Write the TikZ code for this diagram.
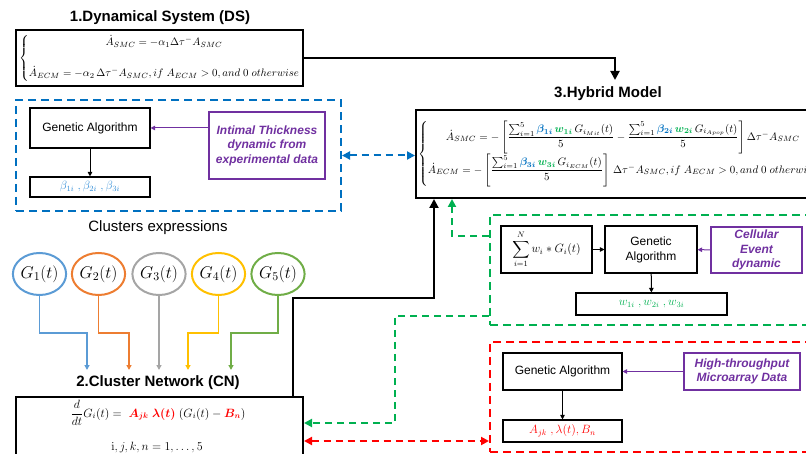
\RequirePackage{fix-cm}
\documentclass[tikz,border=0pt]{standalone}
\usepackage{amsmath,bm}
\usepackage[no-math]{fontspec}
\setmainfont{Liberation Sans}
\usepackage{xcolor}
\usetikzlibrary{arrows.meta,positioning,calc,shapes.geometric}
\definecolor{DBlue}{HTML}{0070C0}
\definecolor{LBlue}{HTML}{2E8BD6}
\definecolor{DGreen}{HTML}{00B050}
\definecolor{DRed}{HTML}{FF0000}
\definecolor{Purple}{HTML}{7030A0}
\definecolor{GOne}{HTML}{5B9BD5}
\definecolor{GTwo}{HTML}{ED7D31}
\definecolor{GThree}{HTML}{A5A5A5}
\definecolor{GFour}{HTML}{FFC000}
\definecolor{GFive}{HTML}{70AD47}
\newcommand{\bcol}[2]{\textcolor{#1}{\boldsymbol{#2}}}

\begin{document}
\begin{tikzpicture}[x=1pt,y=-1pt,
  title/.style={font=\fontsize{15}{18}\selectfont\bfseries},
  frame/.style={draw,line width=2pt,inner sep=1pt},
  eqn/.style={inner sep=0pt,font=\fontsize{10.9}{13}\selectfont},
  box/.style={draw,line width=1.1pt,inner sep=1pt,align=center,font=\fontsize{12}{15}\selectfont},
  databox/.style={draw=Purple,line width=2pt,text=Purple,inner sep=1pt,align=center,font=\fontsize{12}{14.5}\selectfont\bfseries\itshape},
  group/.style={draw,line width=2pt,dash pattern=on 8pt off 5pt},
  gene/.style={ellipse,line width=2pt,minimum width=49pt,minimum height=42pt,inner sep=0pt,font=\fontsize{17}{19}\selectfont},
  flow/.style={line width=2pt,-{Triangle[length=9pt,width=9pt]}},
  arr/.style={line width=1pt,-{Triangle[length=4.5pt,width=4.5pt]}},
  feed/.style={line width=1.5pt,-{Triangle[length=5pt,width=5pt]}},
  link/.style={line width=2pt,dash pattern=on 7pt off 5pt,{Triangle[length=8pt,width=8pt]}-{Triangle[length=8pt,width=8pt]}},
  back/.style={line width=2pt,dash pattern=on 7pt off 5pt,-{Triangle[length=8pt,width=8pt]}}]
\useasboundingbox (0,0) rectangle (806,454);
\clip (0,0) rectangle (806,454);

% dynamical system
\node[title] (dstitle) at (160,18) {1.Dynamical System (DS)};
\node[frame,minimum width=287,minimum height=56] (ds) at (159.5,58) {};
\node[eqn,anchor=west,font=\fontsize{10.8}{13}\selectfont] (dseq) at (19,58)
  {$\left\{\begin{array}{@{}c@{}}
    \dot{A}_{SMC}=-\alpha_1\Delta\tau^{-}A_{SMC}\\[17pt]
    \dot{A}_{ECM}=-\alpha_2\,\Delta\tau^{-}A_{SMC}, if\ A_{ECM}>0, and\ 0\ otherwise
  \end{array}\right.$};

% hybrid model
\node[title] (hybtitle) at (608,94) {3.Hybrid Model};
\node[frame,anchor=west,minimum width=430,minimum height=88] (hyb) at (415,154) {};
\node[eqn,anchor=west] (hybeq) at (418,154)
  {$\left\{\begin{array}{@{}c@{}}
    \dot{A}_{SMC}=-\left[\dfrac{\sum_{i=1}^{5}\bcol{DBlue}{\beta_{1i}}\,\bcol{DGreen}{w_{1i}}\,G_{i_{Mit}}(t)}{5}-\dfrac{\sum_{i=1}^{5}\bcol{DBlue}{\beta_{2i}}\,\bcol{DGreen}{w_{2i}}\,G_{i_{Apop}}(t)}{5}\right]\Delta\tau^{-}A_{SMC}\\[4pt]
    \dot{A}_{ECM}=-\left[\dfrac{\sum_{i=1}^{5}\bcol{DBlue}{\beta_{3i}}\,\bcol{DGreen}{w_{3i}}\,G_{i_{ECM}}(t)}{5}\right]\,\Delta\tau^{-}A_{SMC}, if\ A_{ECM}>0, and\ 0\ otherwise
  \end{array}\right.$};
\coordinate (hybin) at (615,80);
\draw[flow] (ds.east) -| (hybin);

% parameter fitting from intimal thickness
\node[group,draw=DBlue,minimum width=325,minimum height=111] (betagrp) at (178.5,155.5) {};
\node[box,minimum width=120,minimum height=40] (ga1) at (90,128) {Genetic Algorithm};
\node[box,minimum width=120,minimum height=20] (beta) at (90,187) {\color{LBlue}$\beta_{1i}\ ,\beta_{2i}\ ,\beta_{3i}$};
\node[databox,minimum width=116,minimum height=67] (itd) at (267,145.5) {Intimal Thickness\\dynamic from\\experimental data};
\draw[arr] (ga1) -- (beta);
\draw[arr,Purple] (itd.west |- ga1.east) -- (ga1.east);
\draw[link,DBlue] (betagrp.east) -- (betagrp.east -| hyb.west);

% cluster expressions
\node[font=\fontsize{15}{18}\selectfont] (clust) at (158,228) {Clusters expressions};
\foreach \i/\col/\xx/\tx in {1/GOne/39.5/87,2/GTwo/98.5/129,3/GThree/159/159,4/GFour/218.5/188,5/GFive/278/231} {
  \node[gene,draw=\col] (g\i) at (\xx,274) {$G_{\i}(t)$};
  \coordinate (cin\i) at (\tx,370);
  \draw[feed,color=\col] (g\i.south) -- ++(0,37) -| (cin\i);
}

% cluster network
\node[title] (cntitle) at (158,383) {2.Cluster Network (CN)};
\node[frame,minimum width=287,minimum height=73] (cn) at (159.5,433.5) {};
\node[font=\fontsize{12}{14}\selectfont] (cneq) at (158,413)
  {$\dfrac{d}{dt}G_i(t)=\ \textcolor{DRed}{\boldsymbol{A_{jk}}\ \boldsymbol{\lambda(t)}}\ (G_i(t)-\textcolor{DRed}{\boldsymbol{B_n}})$};
\node[font=\fontsize{12}{14}\selectfont] (cnidx) at (157,447) {$\mathrm{i},j,k,n=1,\dots,5$};
\draw[flow] ([xshift=-11]cn.north east) -- ++(0,-98) -| ([xshift=19]hyb.south west);

% weights from cellular events
\node[group,draw=DGreen,anchor=west,minimum width=360,minimum height=110] (wgrp) at (489,270) {};
\node[box,minimum width=91,minimum height=47] (wsum) at (546.5,249.5) {$\displaystyle\sum_{i=1}^{N}w_i*G_i(t)$};
\node[box,minimum width=92,minimum height=47] (ga2) at (651,249.5) {Genetic\\Algorithm};
\node[databox,minimum width=91,minimum height=46] (ced) at (756.5,250) {Cellular\\Event\\dynamic};
\node[box,minimum width=151,minimum height=22] (wts) at (651.5,304) {\color{DGreen}$w_{1i}\ ,w_{2i}\ ,w_{3i}$};
\draw[arr] (wsum) -- (ga2);
\draw[arr,Purple] (ced) -- (ga2);
\draw[arr] (ga2) -- (wts);
\draw[back,DGreen] ([yshift=34]wgrp.west) -| ([xshift=37]hyb.south west);
\draw[back,DGreen] ([yshift=-46]wgrp.west) -- ++(-94,0) |- ([yshift=10.5]cn.east);

% network parameters from microarray data
\node[group,draw=DRed,anchor=west,minimum width=360,minimum height=110] (pgrp) at (489,397) {};
\node[box,minimum width=119,minimum height=37] (ga3) at (562.5,371.5) {Genetic Algorithm};
\node[box,minimum width=119,minimum height=22] (prm) at (562.5,431) {\color{DRed}$A_{jk}\ ,\lambda(t),B_n$};
\node[databox,minimum width=116,minimum height=37] (hmd) at (742,371.5) {High-throughput\\Microarray Data};
\draw[arr] (ga3) -- (prm);
\draw[arr,Purple] (hmd) -- (ga3);
\draw[link,DRed] ([yshift=-7.5]cn.east) -- ([yshift=-7.5]cn.east -| pgrp.west);
\end{tikzpicture}
\end{document}
